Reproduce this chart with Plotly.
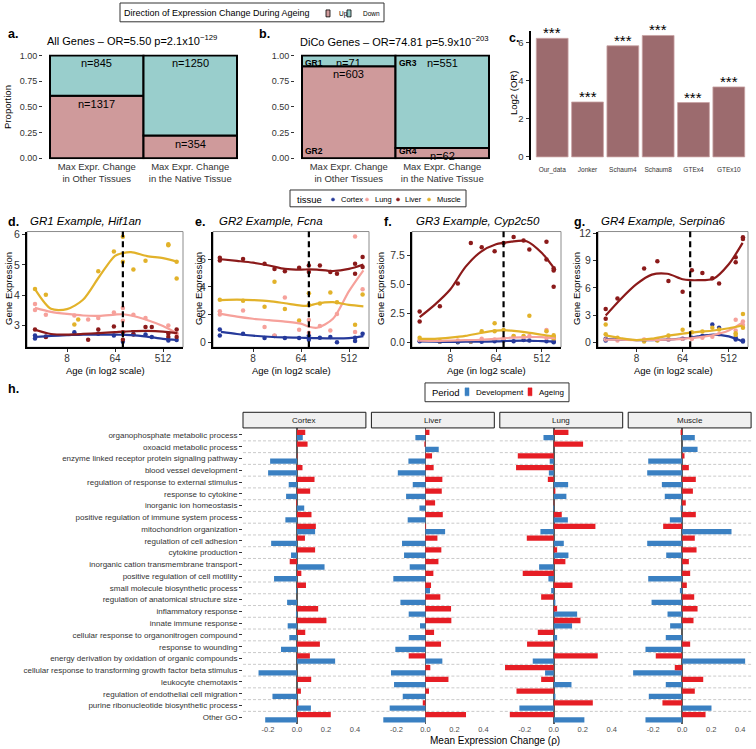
import math
import plotly.graph_objects as go

W, H = 756, 749
FONT = "Liberation Sans, Arial, Helvetica, sans-serif"


def PX(x):
    return x / W


def PY(y):
    return 1 - y / H


# ------------------------------------------------------------------ data
# panels a / b : mosaic of expression-change direction
mosaic_cols = ["Max Expr. Change<br>in Other Tissues", "Max Expr. Change<br>in the Native Tissue"]
all_up = [1317, 354]
all_down = [845, 1250]
dico_up = [603, 62]
dico_down = [71, 551]
dico_top_groups = ["GR1", "GR3"]
dico_bottom_groups = ["GR2", "GR4"]
title_a = "All Genes – OR=5.50 p=2.1x10<sup>−129</sup>"
title_b = "DiCo Genes – OR=74.81 p=5.9x10<sup>−203</sup>"

# panel c : log2 odds ratios
c_studies = ["Our_data", "Jonker", "Schaum4", "Schaum8", "GTEx4", "GTEx10"]
c_log2or = [6.22, 2.88, 5.83, 6.37, 2.85, 3.67]
c_signif = ["***", "***", "***", "***", "***", "***"]

# panels d-g : example genes (age in days, log2 axis)
tissues = ["Cortex", "Lung", "Liver", "Muscle"]
ageing_onset_days = 90

smooth_age = [2, 4, 8, 16, 32, 64, 90, 128, 256, 512, 955]

d_age = [2, 2, 3.2, 11, 13, 20, 31, 61, 90, 90, 142, 240, 315, 645, 645, 925, 925]
d_cortex = [2.67, 2.57, 2.64, 2.78, None, None, 2.73, 2.67, 2.46, None, 2.72, 2.70, 2.62, 2.50, None, 2.52, None]
d_lung = [3.71, 3.51, 3.35, 3.33, None, 3.20, 3.25, 3.43, 3.58, 3.16, 3.35, 3.25, None, 3.00, None, 2.73, None]
d_liver = [2.87, None, 2.62, None, None, 2.53, 2.87, 2.97, 2.78, 2.53, 2.70, 2.95, 2.95, 2.73, 2.62, 2.87, 2.62]
d_muscle = [4.20, None, 4.01, 3.03, 3.20, None, 4.79, 5.44, 5.93, 5.10, 4.85, 5.14, None, 5.68, 5.65, 5.10, 4.55]
d_fit_cortex = [2.62, 2.66, 2.68, 2.70, 2.70, 2.70, 2.69, 2.68, 2.63, 2.56, 2.52]
d_fit_lung = [3.58, 3.45, 3.38, 3.33, 3.32, 3.36, 3.37, 3.33, 3.18, 2.98, 2.73]
d_fit_liver = [2.86, 2.72, 2.70, 2.72, 2.75, 2.78, 2.80, 2.81, 2.82, 2.80, 2.75]
d_fit_muscle = [4.20, 3.55, 3.54, 3.85, 4.60, 5.30, 5.39, 5.42, 5.29, 5.22, 5.10]

e_age = [1.9, 1.9, 5.2, 13.2, 20.3, 31.8, 59, 90, 90, 145, 228, 304, 666, 666, 923, 923]
e_cortex = [0.93, 0.50, 0.62, 0.31, 0.45, 0.31, 0.31, 0.50, 0.19, 0.33, 0.38, 0.00, 0.33, 0.10, 0.62, None]
e_lung = [2.24, 2.00, 2.29, 1.10, 0.50, 3.24, 0.90, 1.62, 0.69, 1.17, 0.86, 2.05, 7.64, 0.74, 3.83, None]
e_liver = [6.10, 5.90, 6.02, 5.67, 5.30, 5.14, 5.38, 5.55, 5.07, 5.55, 5.07, 4.95, 5.67, 4.95, 6.17, 5.43]
e_muscle = [3.07, None, 3.00, 2.57, 4.38, 2.40, 1.57, 3.55, 2.69, 2.80, 3.60, 2.90, 1.26, None, 3.45, None]
e_fit_cortex = [0.75, 0.60, 0.48, 0.40, 0.35, 0.33, 0.32, 0.30, 0.28, 0.30, 0.45]
e_fit_lung = [2.05, 1.85, 1.70, 1.60, 1.50, 1.35, 1.12, 1.05, 1.70, 3.70, 5.20]
e_fit_liver = [6.00, 5.88, 5.75, 5.55, 5.30, 5.25, 5.27, 5.25, 5.15, 5.30, 5.62]
e_fit_muscle = [3.05, 3.08, 3.05, 2.98, 2.82, 2.65, 2.65, 2.80, 2.90, 2.70, 2.60]

f_age = [2, 2, 5, 11.3, 20.4, 33.4, 60, 60, 90, 142, 223, 290, 630, 630, 873, 873, 873]
f_cortex = [0.10, None, 0.05, 0.00, 0.05, 0.05, 0.10, None, 0.15, 0.10, 0.20, 0.15, 0.10, None, 0.05, 0.00, None]
f_lung = [0.20, None, 0.10, 0.15, 0.10, 0.30, 0.25, None, 0.35, 0.50, 0.45, 0.55, 1.05, 0.40, 0.45, 0.30, None]
f_liver = [2.65, 1.80, 3.10, 5.07, 8.57, 8.20, 7.86, None, 8.57, 9.08, 8.78, 8.00, 8.66, 7.15, 6.38, 6.20, 4.80]
f_muscle = [0.40, None, 0.10, 0.10, 0.10, 0.95, 0.95, 1.65, 1.05, 0.55, 0.55, 2.30, 0.95, None, 0.60, 0.40, 0.30]
f_fit_cortex = [0.08, 0.05, 0.04, 0.05, 0.05, 0.08, 0.10, 0.13, 0.15, 0.10, 0.05]
f_fit_lung = [0.15, 0.13, 0.15, 0.18, 0.22, 0.30, 0.35, 0.40, 0.45, 0.45, 0.35]
f_fit_liver = [2.17, 3.25, 4.55, 6.50, 7.80, 8.45, 8.57, 8.68, 8.72, 7.70, 6.20]
f_fit_muscle = [0.30, 0.30, 0.40, 0.55, 0.80, 1.00, 1.05, 1.00, 0.85, 0.65, 0.50]

g_age = [2, 2, 3.4, 11.3, 20.5, 33.8, 64, 97, 156, 244, 331, 699, 699, 969, 969]
g_cortex = [0.40, 0.20, 0.35, 0.20, 0.25, 0.30, 0.40, 0.50, 0.70, 1.96, 1.60, 0.50, 0.30, 0.20, 0.10]
g_lung = [0.30, None, 0.20, 0.30, 0.25, 0.30, 0.40, 0.35, 0.50, 0.60, 0.90, 2.47, 1.30, 2.30, 1.90]
g_liver = [3.67, 2.58, 4.83, 8.14, 8.94, 6.76, 5.56, 7.93, 7.63, 7.05, 6.47, 9.38, 8.83, 11.56, 11.38]
g_muscle = [1.96, 0.90, 0.50, 0.10, 0.20, 0.76, 1.38, 1.10, 1.20, 1.60, 1.40, 1.00, 0.80, 3.13, 1.60]
g_fit_cortex = [0.35, 0.30, 0.25, 0.25, 0.30, 0.42, 0.50, 0.65, 0.85, 0.65, 0.10]
g_fit_lung = [0.30, 0.28, 0.25, 0.27, 0.30, 0.38, 0.45, 0.55, 0.80, 1.30, 2.20]
g_fit_liver = [2.95, 4.80, 6.40, 7.45, 7.55, 6.95, 6.85, 6.84, 7.00, 8.60, 10.95]
g_fit_muscle = [0.76, 0.45, 0.25, 0.40, 0.70, 0.95, 1.06, 1.15, 1.30, 1.55, 1.85]

# panel h : GO categories, mean expression change (rho)
go_terms = [
    "organophosphate metabolic process",
    "oxoacid metabolic process",
    "enzyme linked receptor protein signaling pathway",
    "blood vessel development",
    "regulation of response to external stimulus",
    "response to cytokine",
    "inorganic ion homeostasis",
    "positive regulation of immune system process",
    "mitochondrion organization",
    "regulation of cell adhesion",
    "cytokine production",
    "inorganic cation transmembrane transport",
    "positive regulation of cell motility",
    "small molecule biosynthetic process",
    "regulation of anatomical structure size",
    "inflammatory response",
    "innate immune response",
    "cellular response to organonitrogen compound",
    "response to wounding",
    "energy derivation by oxidation of organic compounds",
    "cellular response to transforming growth factor beta stimulus",
    "leukocyte chemotaxis",
    "regulation of endothelial cell migration",
    "purine ribonucleotide biosynthetic process",
    "Other GO",
]
h_tissues = ["Cortex", "Liver", "Lung", "Muscle"]
cortex_dev = [0.040, 0.000, -0.185, -0.199, -0.057, -0.075, 0.050, -0.080, 0.125, -0.178, -0.041, 0.190, -0.158,
              -0.005, -0.068, -0.007, -0.064, -0.053, -0.110, 0.263, -0.265, 0.000, -0.169, 0.096, -0.219]
cortex_age = [0.057, 0.073, 0.003, 0.038, 0.121, 0.091, -0.005, 0.100, 0.130, 0.055, 0.125, -0.050, 0.030,
              0.062, 0.000, 0.146, 0.203, 0.057, 0.158, 0.089, 0.000, 0.098, 0.027, 0.010, 0.233]
liver_dev = [-0.069, 0.092, -0.117, -0.190, -0.087, -0.133, -0.041, -0.122, 0.136, -0.161, -0.147, -0.108, -0.221,
             0.032, -0.172, -0.115, -0.037, -0.115, -0.207, 0.117, -0.237, -0.216, -0.156, -0.246, -0.290]
liver_age = [0.028, -0.007, 0.046, 0.057, 0.117, 0.113, 0.067, 0.120, 0.005, 0.083, 0.110, 0.090, 0.055,
             0.039, 0.103, 0.177, 0.179, 0.060, 0.108, -0.115, 0.034, 0.159, 0.025, -0.018, 0.280]
lung_dev = [-0.071, 0.000, -0.028, -0.034, 0.099, 0.087, -0.005, 0.097, -0.092, 0.069, 0.101, -0.101, -0.037,
            -0.018, 0.011, 0.161, 0.126, 0.023, 0.005, -0.145, -0.060, 0.122, 0.011, -0.237, 0.211]
lung_age = [0.101, 0.202, -0.248, -0.260, -0.041, 0.011, 0.003, 0.055, 0.287, -0.186, 0.023, 0.080, -0.214,
            0.129, -0.087, 0.023, 0.184, -0.110, -0.184, 0.303, -0.336, -0.087, -0.257, 0.269, -0.303]
muscle_dev = [0.087, 0.106, -0.234, -0.241, -0.140, -0.120, -0.011, -0.085, 0.340, -0.241, -0.110, 0.003, -0.234,
              -0.016, -0.211, -0.101, -0.083, -0.113, -0.253, 0.434, -0.338, -0.113, -0.230, 0.202, -0.253]
muscle_age = [-0.011, 0.000, 0.016, 0.046, 0.094, 0.074, 0.025, 0.094, -0.131, 0.087, 0.099, 0.046, 0.055,
              0.032, 0.083, 0.106, 0.078, 0.000, 0.055, -0.182, -0.051, 0.145, 0.087, -0.136, 0.161]
h_ticks = [-0.2, 0.0, 0.2, 0.4]
h_ticktext = ["-0.2", "0.0", "0.2", "0.4"]

# ------------------------------------------------------------------ styles
UP_COL, DOWN_COL = "#CF9A9B", "#99CECC"
C_BAR = "#9C6B6E"
TISSUE_COL = {"Cortex": "#25399A", "Lung": "#F6A19B", "Liver": "#8B1A1A", "Muscle": "#E2B22A"}
DEV_COL, AGE_COL = "#3A80C2", "#E61E25"
TICK_COL = "#333333"

fig = go.Figure()
shapes = []
ann = []


def text(x, y, s, size=9.0, xanchor="center", yanchor="middle", color="black", angle=0, bold=False, **kw):
    if bold:
        s = "<b>" + s + "</b>"
    ann.append(dict(x=PX(x), y=PY(y), xref="paper", yref="paper", text=s, showarrow=False,
                    xanchor=xanchor, yanchor=yanchor, textangle=angle,
                    font=dict(family=FONT, size=size, color=color), **kw))


layout_axes = {}


# ------------------------------------------------------------------ panels a / b
def mosaic(up, down, n, dom_x, top_groups=None, bottom_groups=None):
    tot = [u + d for u, d in zip(up, down)]
    up_p = [u / t for u, t in zip(up, tot)]
    down_p = [d / t for d, t in zip(down, tot)]
    xa, ya = ("x", "y") if n == 1 else (f"x{n}", f"y{n}")
    line = dict(color="black", width=2)
    fig.add_bar(x=mosaic_cols, y=up_p, base=[0] * len(up), width=1, name="Up",
                marker=dict(color=UP_COL, line=line), xaxis=xa, yaxis=ya, showlegend=False)
    fig.add_bar(x=mosaic_cols, y=down_p, base=up_p, width=1, name="Down",
                marker=dict(color=DOWN_COL, line=line), xaxis=xa, yaxis=ya, showlegend=False)
    for i, col in enumerate(mosaic_cols):
        for val, yy in ((up[i], up_p[i]), (down[i], up_p[i] + down_p[i])):
            ann.append(dict(x=col, y=yy, xref=xa, yref=ya, text=f"n={val}", showarrow=False,
                            yanchor="top", yshift=0, font=dict(family=FONT, size=11, color="black")))
        if top_groups:
            ann.append(dict(x=i - 0.5, y=1.0, xref=xa, yref=ya, text=f"<b>{top_groups[i]}</b>", showarrow=False,
                            xanchor="left", yanchor="top", xshift=1, yshift=-1,
                            font=dict(family=FONT, size=8.5, color="black")))
            ann.append(dict(x=i - 0.5, y=0.0, xref=xa, yref=ya, text=f"<b>{bottom_groups[i]}</b>", showarrow=False,
                            xanchor="left", yanchor="bottom", xshift=1, yshift=0,
                            font=dict(family=FONT, size=8.5, color="black")))
    key = "" if n == 1 else str(n)
    layout_axes["xaxis" + key] = dict(domain=[PX(dom_x[0]), PX(dom_x[1])], anchor=ya, type="category",
                                      range=[-0.575, 1.575], showgrid=False, zeroline=False, showline=False,
                                      ticks="", tickfont=dict(family=FONT, size=9.5, color=TICK_COL))
    layout_axes["yaxis" + key] = dict(domain=[PY(157), PY(51)], anchor=xa, range=[-0.01, 1.01],
                                      tickvals=[0, 0.25, 0.5, 0.75, 1.0],
                                      ticktext=["0.00", "0.25", "0.50", "0.75", "1.00"],
                                      showgrid=False, zeroline=False, showline=False,
                                      ticks="outside", ticklen=3, tickcolor=TICK_COL,
                                      tickfont=dict(family=FONT, size=9, color=TICK_COL))


mosaic(all_up, all_down, 1, (43, 244))
mosaic(dico_up, dico_down, 2, (295, 496), dico_top_groups, dico_bottom_groups)
text(132, 36, title_a, size=11)
text(394, 37, title_b, size=11)
text(8, 104, "Proportion", size=9.5, angle=-90)

# ------------------------------------------------------------------ panel c
fig.add_bar(x=c_studies, y=c_log2or, width=0.9, xaxis="x3", yaxis="y3", showlegend=False,
            marker=dict(color=C_BAR, line=dict(color="#C9A3A5", width=0.8)))
for s, v, lab in zip(c_studies, c_log2or, c_signif):
    ann.append(dict(x=s, y=v, xref="x3", yref="y3", text=lab, showarrow=False, yanchor="bottom",
                    yshift=-5, font=dict(family=FONT, size=15, color="black")))
layout_axes["xaxis3"] = dict(domain=[PX(531), PX(750)], anchor="y3", range=[-0.6, 5.6], showgrid=False,
                             zeroline=False, showline=False, ticks="", ticklabelstandoff=4,
                             tickfont=dict(family=FONT, size=6.5, color=TICK_COL))
layout_axes["yaxis3"] = dict(domain=[PY(158), PY(27)], anchor="x3", range=[-0.18, 6.62],
                             tickvals=[0, 2, 4, 6], showgrid=False, zeroline=False,
                             showline=True, linecolor="black", linewidth=2.5,
                             ticks="outside", ticklen=3, tickcolor=TICK_COL,
                             tickfont=dict(family=FONT, size=9.5, color=TICK_COL))
text(513, 90, "Log2 (OR)", size=9.5, angle=-90)

# ------------------------------------------------------------------ panels d-g
gene_panels = [
    dict(n=4, letter="d.", title="GR1 Example, Hif1an", age=d_age,
         pts=[d_cortex, d_lung, d_liver, d_muscle], fit=[d_fit_cortex, d_fit_lung, d_fit_liver, d_fit_muscle],
         yr=[2.28, 6.1], tv=[3, 4, 5, 6], tt=["3", "4", "5", "6"], dx=(27, 183), lx=6, tx=28, ytx=9),
    dict(n=5, letter="e.", title="GR2 Example, Fcna", age=e_age,
         pts=[e_cortex, e_lung, e_liver, e_muscle], fit=[e_fit_cortex, e_fit_lung, e_fit_liver, e_fit_muscle],
         yr=[-0.36, 8.0], tv=[0, 2, 4, 6], tt=["0", "2", "4", "6"], dx=(213, 369), lx=193, tx=217, ytx=199),
    dict(n=6, letter="f.", title="GR3 Example, Cyp2c50", age=f_age,
         pts=[f_cortex, f_lung, f_liver, f_muscle], fit=[f_fit_cortex, f_fit_lung, f_fit_liver, f_fit_muscle],
         yr=[-0.43, 9.55], tv=[0, 2.5, 5, 7.5], tt=["0.0", "2.5", "5.0", "7.5"], dx=(412, 561), lx=382, tx=414,
         ytx=381),
    dict(n=7, letter="g.", title="GR4 Example, Serpina6", age=g_age,
         pts=[g_cortex, g_lung, g_liver, g_muscle], fit=[g_fit_cortex, g_fit_lung, g_fit_liver, g_fit_muscle],
         yr=[-0.55, 12.2], tv=[0, 3, 6, 9, 12], tt=["0", "3", "6", "9", "12"], dx=(598, 748), lx=572, tx=599,
         ytx=577),
]
PLOT_TOP, PLOT_BOT = 230, 347
for p in gene_panels:
    n = p["n"]
    xa, ya = f"x{n}", f"y{n}"
    for t, vals in zip(tissues, p["pts"]):
        fig.add_scatter(x=p["age"], y=vals, mode="markers", xaxis=xa, yaxis=ya, showlegend=False, name=t,
                        marker=dict(color=TISSUE_COL[t], size=4.5), cliponaxis=False)
    for t, vals in zip(tissues, p["fit"]):
        fig.add_scatter(x=smooth_age, y=vals, mode="lines", xaxis=xa, yaxis=ya, showlegend=False, name=t,
                        line=dict(color=TISSUE_COL[t], width=2.2, shape="spline", smoothing=0.8))
    layout_axes[f"xaxis{n}"] = dict(domain=[PX(p["dx"][0]), PX(p["dx"][1])], anchor=ya, type="log",
                                    range=[math.log10(2 ** 0.5), math.log10(2 ** 10.25)],
                                    tickvals=[8, 64, 512], ticktext=["8", "64", "512"],
                                    showgrid=False, zeroline=False, showline=True, linecolor="black",
                                    linewidth=2, ticks="outside", ticklen=2.5, tickcolor=TICK_COL,
                                    ticklabelstandoff=-2,
                                    tickfont=dict(family=FONT, size=10, color=TICK_COL))
    layout_axes[f"yaxis{n}"] = dict(domain=[PY(PLOT_BOT), PY(PLOT_TOP)], anchor=xa, range=p["yr"],
                                    tickvals=p["tv"], ticktext=p["tt"], showgrid=False, zeroline=False,
                                    showline=True, linecolor="black", linewidth=2,
                                    ticks="outside", ticklen=3, tickcolor=TICK_COL,
                                    tickfont=dict(family=FONT, size=10.5, color=TICK_COL))
    shapes.append(dict(type="rect", xref=f"x{n} domain", yref=f"y{n} domain", x0=0, x1=1, y0=0, y1=1,
                       line=dict(color="#8C8C8C", width=1), layer="below"))
    shapes.append(dict(type="line", xref=xa, yref=f"y{n} domain", x0=ageing_onset_days,
                       x1=ageing_onset_days, y0=0, y1=1,
                       line=dict(color="black", width=2.2, dash="6px,4px")))
    text(p["lx"], 220, p["letter"], size=12.5, xanchor="left", bold=True)
    text(p["tx"], 219, "<i>" + p["title"] + "</i>", size=11.5, xanchor="left")
    text(p["ytx"], 288, "Gene Expression", size=9.5, angle=-90)
    text((p["dx"][0] + p["dx"][1]) / 2, 370, "Age (in log2 scale)", size=9.5)

# ------------------------------------------------------------------ panel h
h_dev = [cortex_dev, liver_dev, lung_dev, muscle_dev]
h_age = [cortex_age, liver_age, lung_age, muscle_age]
H_TOP, H_BOT = 428.5, 727.5
panel_w, gap = 122.9, 5.5
for i, t in enumerate(h_tissues):
    n = 8 + i
    xa, ya = f"x{n}", f"y{n}"
    x0 = 243 + i * (panel_w + gap)
    x1 = x0 + panel_w
    fig.add_bar(y=go_terms, x=h_dev[i], orientation="h", width=0.45, offset=0, xaxis=xa, yaxis=ya,
                name="Development", showlegend=False, marker=dict(color=DEV_COL, line=dict(width=0)))
    fig.add_bar(y=go_terms, x=h_age[i], orientation="h", width=0.45, offset=-0.45, xaxis=xa, yaxis=ya,
                name="Ageing", showlegend=False, marker=dict(color=AGE_COL, line=dict(width=0)))
    layout_axes[f"xaxis{n}"] = dict(domain=[PX(x0), PX(x1)], anchor=ya, range=[-0.372, 0.475],
                                    tickvals=h_ticks, ticktext=h_ticktext, showgrid=False,
                                    zeroline=True, zerolinecolor="#5A5A5A", zerolinewidth=1.5,
                                    showline=False, ticks="",
                                    tickfont=dict(family=FONT, size=7.5, color="#4D4D4D"))
    yax = dict(domain=[PY(H_BOT), PY(H_TOP)], anchor=xa, type="category", categoryorder="array",
               categoryarray=go_terms, range=[len(go_terms) - 0.45, -0.6], showgrid=False, zeroline=False,
               showline=False)
    if i == 0:
        yax.update(ticks="outside", ticklen=3, tickcolor=TICK_COL,
                   tickfont=dict(family=FONT, size=8, color=TICK_COL))
    else:
        yax.update(showticklabels=False, ticks="", matches="y8")
    layout_axes[f"yaxis{n}"] = yax
    for k in range(len(go_terms) - 1):
        shapes.append(dict(type="line", xref=f"x{n} domain", yref=ya, x0=0, x1=1, y0=k + 0.5, y1=k + 0.5,
                           line=dict(color="#BDBDBD", width=0.8, dash="3px,2px"), layer="below"))
    # strip
    shapes.append(dict(type="rect", xref="paper", yref="paper", x0=PX(x0), x1=PX(x1), y0=PY(H_TOP),
                       y1=PY(412.7), fillcolor="#F0F0F0", line=dict(color="#1A1A1A", width=1)))
    text((x0 + x1) / 2, 420.6, t, size=8, color="#1A1A1A")

text(495, 744, "Mean Expression Change (ρ)", size=10)

# ------------------------------------------------------------------ panel letters
text(6, 30, "a.", size=12.5, xanchor="left", bold=True)
text(257, 30, "b.", size=12.5, xanchor="left", bold=True)
text(507, 34, "c.", size=12.5, xanchor="left", bold=True)
text(6, 389, "h.", size=12.5, xanchor="left", bold=True)


# ------------------------------------------------------------------ legends (drawn)
def box(x0, y0, x1, y1, fill="white", lc="#333333", lw=1):
    shapes.append(dict(type="rect", xref="paper", yref="paper", x0=PX(x0), x1=PX(x1), y0=PY(y1), y1=PY(y0),
                       fillcolor=fill, line=dict(color=lc, width=lw)))


# direction legend
box(120, -1, 384, 18)
text(122, 9.5, "Direction of Expression Change During Ageing", size=9, xanchor="left")
box(326, 6, 330, 13, fill=UP_COL, lc="black", lw=0.8)
text(337, 10, "Up", size=6.5, xanchor="left")
box(347, 6, 351, 13, fill=DOWN_COL, lc="black", lw=0.8)
text(361, 10, "Down", size=6.5, xanchor="left")

# tissue legend
box(290, 188, 466, 205)
text(295, 197.5, "tissue", size=9.5, xanchor="left")
for t, dx, tx in zip(tissues, [333, 367, 398, 429], [339, 373, 403, 435]):
    shapes.append(dict(type="circle", xref="paper", yref="paper", x0=PX(dx - 1.6), x1=PX(dx + 1.6),
                       y0=PY(197.6 + 1.6), y1=PY(197.6 - 1.6), fillcolor=TISSUE_COL[t],
                       line=dict(color=TISSUE_COL[t], width=0.5)))
    text(tx, 197.5, t, size=7.5, xanchor="left")

# period legend
box(425, 383, 569, 402)
text(430, 393, "Period", size=9.5, xanchor="left")
box(465, 388, 469, 396, fill=DEV_COL, lc=DEV_COL, lw=0.5)
text(474, 392.5, "Development", size=8, xanchor="left")
box(528, 388, 532, 396, fill=AGE_COL, lc=AGE_COL, lw=0.5)
text(537, 392.5, "Ageing", size=8, xanchor="left")

fig.update_layout(
    width=W, height=H, margin=dict(l=0, r=0, t=0, b=0),
    paper_bgcolor="white", plot_bgcolor="white",
    barmode="overlay", showlegend=False,
    font=dict(family=FONT, size=9, color="black"),
    shapes=shapes, annotations=ann,
    **layout_axes,
)
fig.write_html("out.html",
               config={"displayModeBar": False, "staticPlot": True},
               post_script="document.body.style.margin='0px';document.body.style.overflow='hidden';")
